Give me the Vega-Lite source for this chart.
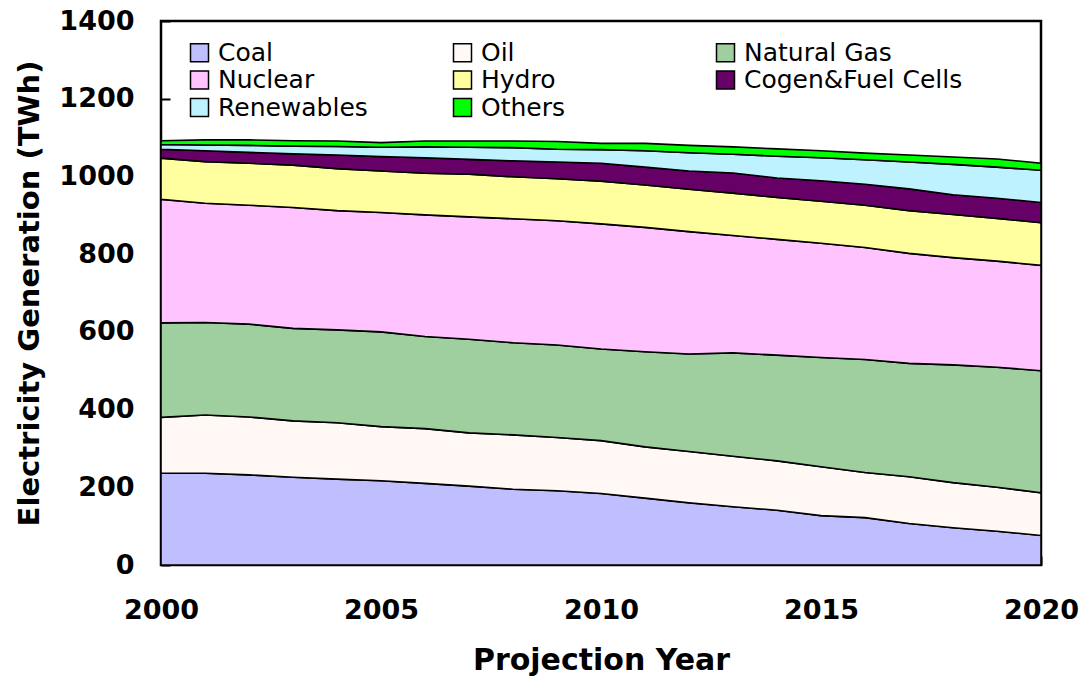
{
  "$schema": "https://vega.github.io/schema/vega-lite/v6.json",
  "width": 880,
  "height": 544,
  "autosize": {"type": "none"},
  "padding": {"left": 161, "top": 21, "right": 44, "bottom": 125},
  "background": "white",
  "config": {"view": {"stroke": "black", "strokeWidth": 2.5}, "font": "DejaVu Sans"},
  "datasets": {
    "stackrank": [
      {"source": "Coal", "rank": 1},
      {"source": "Oil", "rank": 2},
      {"source": "Natural Gas", "rank": 3},
      {"source": "Nuclear", "rank": 4},
      {"source": "Hydro", "rank": 5},
      {"source": "Cogen&Fuel Cells", "rank": 6},
      {"source": "Renewables", "rank": 7},
      {"source": "Others", "rank": 8}
    ]
  },
  "data": {"values": [
    {"year": 2000, "Coal": 236, "Oil": 144, "Natural Gas": 243, "Nuclear": 318, "Hydro": 106, "Cogen&Fuel Cells": 23, "Renewables": 12, "Others": 10},
    {"year": 2001, "Coal": 236, "Oil": 150, "Natural Gas": 238, "Nuclear": 307, "Hydro": 107, "Cogen&Fuel Cells": 28, "Renewables": 15, "Others": 13},
    {"year": 2002, "Coal": 232, "Oil": 149, "Natural Gas": 239, "Nuclear": 306, "Hydro": 108, "Cogen&Fuel Cells": 28, "Renewables": 18, "Others": 14},
    {"year": 2003, "Coal": 226, "Oil": 145, "Natural Gas": 238, "Nuclear": 311, "Hydro": 109, "Cogen&Fuel Cells": 29, "Renewables": 20, "Others": 14},
    {"year": 2004, "Coal": 221, "Oil": 145, "Natural Gas": 239, "Nuclear": 307, "Hydro": 108, "Cogen&Fuel Cells": 35, "Renewables": 22, "Others": 14},
    {"year": 2005, "Coal": 217, "Oil": 139, "Natural Gas": 244, "Nuclear": 307, "Hydro": 107, "Cogen&Fuel Cells": 37, "Renewables": 24, "Others": 12},
    {"year": 2006, "Coal": 210, "Oil": 141, "Natural Gas": 237, "Nuclear": 313, "Hydro": 107, "Cogen&Fuel Cells": 40, "Renewables": 28, "Others": 15},
    {"year": 2007, "Coal": 203, "Oil": 137, "Natural Gas": 241, "Nuclear": 315, "Hydro": 110, "Cogen&Fuel Cells": 38, "Renewables": 31, "Others": 16},
    {"year": 2008, "Coal": 195, "Oil": 140, "Natural Gas": 237, "Nuclear": 319, "Hydro": 108, "Cogen&Fuel Cells": 41, "Renewables": 34, "Others": 17},
    {"year": 2009, "Coal": 191, "Oil": 137, "Natural Gas": 238, "Nuclear": 320, "Hydro": 108, "Cogen&Fuel Cells": 43, "Renewables": 33, "Others": 20},
    {"year": 2010, "Coal": 184, "Oil": 136, "Natural Gas": 236, "Nuclear": 322, "Hydro": 110, "Cogen&Fuel Cells": 46, "Renewables": 35, "Others": 16},
    {"year": 2011, "Coal": 172, "Oil": 132, "Natural Gas": 245, "Nuclear": 320, "Hydro": 109, "Cogen&Fuel Cells": 46, "Renewables": 42, "Others": 19},
    {"year": 2012, "Coal": 160, "Oil": 132, "Natural Gas": 251, "Nuclear": 315, "Hydro": 109, "Cogen&Fuel Cells": 47, "Renewables": 47, "Others": 19},
    {"year": 2013, "Coal": 150, "Oil": 130, "Natural Gas": 266, "Nuclear": 302, "Hydro": 109, "Cogen&Fuel Cells": 52, "Renewables": 48, "Others": 19},
    {"year": 2014, "Coal": 141, "Oil": 127, "Natural Gas": 272, "Nuclear": 298, "Hydro": 108, "Cogen&Fuel Cells": 50, "Renewables": 56, "Others": 19},
    {"year": 2015, "Coal": 127, "Oil": 126, "Natural Gas": 281, "Nuclear": 294, "Hydro": 108, "Cogen&Fuel Cells": 53, "Renewables": 59, "Others": 18},
    {"year": 2016, "Coal": 122, "Oil": 116, "Natural Gas": 291, "Nuclear": 288, "Hydro": 109, "Cogen&Fuel Cells": 54, "Renewables": 63, "Others": 17},
    {"year": 2017, "Coal": 107, "Oil": 120, "Natural Gas": 292, "Nuclear": 283, "Hydro": 110, "Cogen&Fuel Cells": 56, "Renewables": 69, "Others": 18},
    {"year": 2018, "Coal": 96, "Oil": 116, "Natural Gas": 303, "Nuclear": 276, "Hydro": 111, "Cogen&Fuel Cells": 51, "Renewables": 78, "Others": 19},
    {"year": 2019, "Coal": 87, "Oil": 113, "Natural Gas": 309, "Nuclear": 273, "Hydro": 110, "Cogen&Fuel Cells": 52, "Renewables": 80, "Others": 21},
    {"year": 2020, "Coal": 76, "Oil": 110, "Natural Gas": 314, "Nuclear": 271, "Hydro": 110, "Cogen&Fuel Cells": 52, "Renewables": 83, "Others": 18}
  ]},
  "transform": [
    {"fold": ["Coal", "Oil", "Natural Gas", "Nuclear", "Hydro", "Cogen&Fuel Cells", "Renewables", "Others"], "as": ["source", "value"]},
    {"lookup": "source", "from": {"data": {"name": "stackrank"}, "key": "source", "fields": ["rank"]}}
  ],
  "mark": {"type": "area", "stroke": "black", "strokeWidth": 1.6, "fillOpacity": 1},
  "encoding": {
    "x": {
      "field": "year", "type": "quantitative",
      "scale": {"domain": [2000, 2020], "nice": false, "zero": false},
      "axis": {
        "title": "Projection Year", "values": [2000, 2005, 2010, 2015, 2020], "format": "d",
        "tickSize": -9, "tickWidth": 2, "tickColor": "black", "domain": false, "grid": false,
        "labelFont": "DejaVu Sans", "labelFontSize": 27, "labelFontWeight": "bold", "labelColor": "black",
        "labelPadding": 41, "labelFlush": false, "labelOverlap": false,
        "titleFont": "DejaVu Sans", "titleFontSize": 30, "titleFontWeight": "bold", "titleColor": "black", "titlePadding": 22
      }
    },
    "y": {
      "field": "value", "type": "quantitative", "stack": "zero",
      "scale": {"domain": [0, 1400], "nice": false},
      "axis": {
        "title": "Electricity Generation (TWh)", "values": [0, 200, 400, 600, 800, 1000, 1200, 1400], "format": "d",
        "tickSize": -9, "tickWidth": 2, "tickColor": "black", "domain": false, "grid": false,
        "labelFont": "DejaVu Sans", "labelFontSize": 27, "labelFontWeight": "bold", "labelColor": "black",
        "labelPadding": 36, "labelFlush": false, "labelOverlap": false,
        "titleFont": "DejaVu Sans", "titleFontSize": 29, "titleFontWeight": "bold", "titleColor": "black", "titlePadding": 14
      }
    },
    "order": {"field": "rank", "type": "quantitative", "sort": "ascending"},
    "color": {
      "field": "source", "type": "nominal",
      "sort": ["Coal", "Oil", "Natural Gas", "Nuclear", "Hydro", "Cogen&Fuel Cells", "Renewables", "Others"],
      "scale": {
        "domain": ["Coal", "Oil", "Natural Gas", "Nuclear", "Hydro", "Cogen&Fuel Cells", "Renewables", "Others"],
        "range": ["#BFBFFF", "#FFF8F5", "#9FCE9F", "#FFC4FF", "#FFFF9F", "#660066", "#BFF2FF", "#00FF00"]
      },
      "legend": {
        "title": null, "orient": "none", "legendX": 26, "legendY": 19, "columns": 3, "direction": "horizontal", "gridAlign": "all",
        "columnPadding": 13, "rowPadding": 1.5, "padding": 0,
        "symbolType": "square", "symbolSize": 324, "symbolStrokeColor": "black", "symbolStrokeWidth": 1.5, "symbolOpacity": 1,
        "labelFont": "DejaVu Sans", "labelFontSize": 25, "labelColor": "black", "labelOffset": 6, "labelLimit": 400
      }
    }
  }
}
